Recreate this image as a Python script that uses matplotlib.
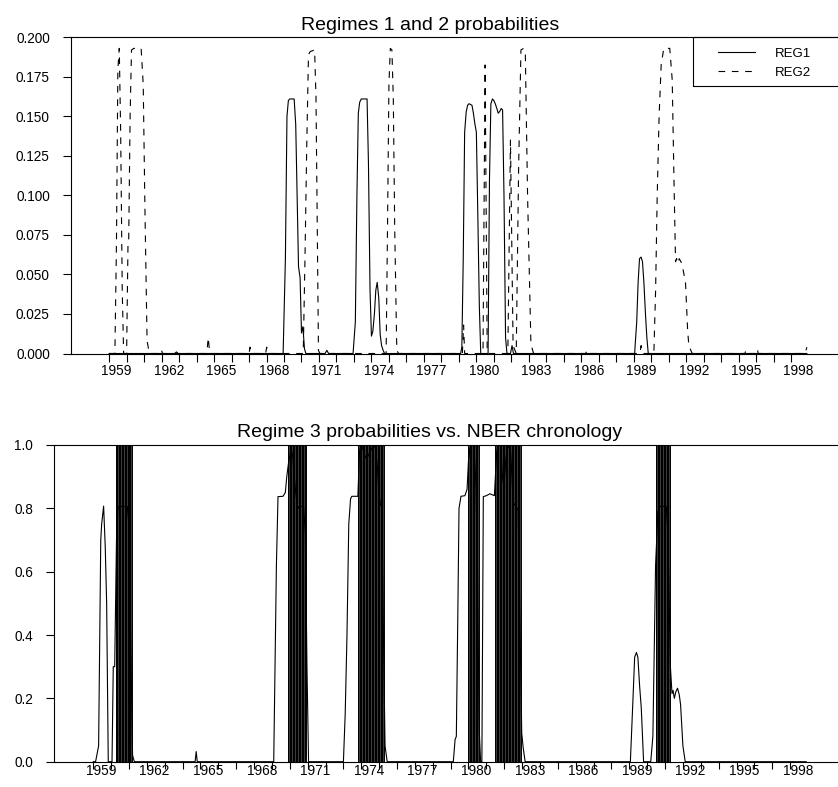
import numpy as np
import matplotlib
matplotlib.use("Agg")
import matplotlib.pyplot as plt
from matplotlib.patches import Rectangle

plt.rcParams['font.family'] = ['Liberation Sans', 'DejaVu Sans']

# ---- data (decimal years) ----
reg1_t = [1959.0, 1962.75, 1962.85, 1962.95, 1968.95, 1969.08, 1969.17, 1969.25, 1969.33,
          1969.58, 1969.67, 1969.75, 1969.83, 1969.92, 1970.0, 1970.08, 1970.17, 1970.25,
          1971.35, 1971.45, 1971.55, 1972.95, 1973.08, 1973.17, 1973.25, 1973.33, 1973.42,
          1973.75, 1973.83, 1973.92, 1974.0, 1974.08, 1974.17, 1974.25, 1974.33, 1974.42,
          1974.5, 1974.58, 1974.67, 1974.75, 1979.1, 1979.17, 1979.25, 1979.33, 1979.42,
          1979.5, 1979.58, 1979.75, 1979.83, 1979.92, 1980.0, 1980.08, 1980.17, 1980.25,
          1980.67, 1980.75, 1980.83, 1980.92, 1981.0, 1981.08, 1981.17, 1981.25, 1981.33,
          1981.42, 1981.5, 1981.58, 1981.67, 1981.75, 1981.95, 1982.04, 1982.12, 1989.05,
          1989.17, 1989.25, 1989.33, 1989.42, 1989.5, 1989.58, 1989.67, 1989.75, 1989.83,
          1998.9]
reg1_v = [0, 0, 0.001, 0, 0, 0.06, 0.150, 0.160, 0.161,
          0.161, 0.145, 0.10, 0.055, 0.048, 0.013, 0.017, 0.003, 0,
          0, 0.002, 0, 0, 0.02, 0.10, 0.152, 0.159, 0.161,
          0.161, 0.12, 0.04, 0.011, 0.014, 0.025, 0.040, 0.045, 0.035,
          0.012, 0.005, 0.002, 0, 0, 0.004, 0.06, 0.14, 0.153,
          0.157, 0.158, 0.157, 0.152, 0.145, 0.14, 0.09, 0.03, 0,
          0, 0.11, 0.158, 0.161, 0.160, 0.158, 0.155, 0.152, 0.153,
          0.155, 0.154, 0.10, 0.01, 0, 0, 0.005, 0, 0,
          0.02, 0.045, 0.060, 0.061, 0.058, 0.045, 0.025, 0.01, 0,
          0]

reg2_t = [1959.0, 1959.33, 1959.42, 1959.5, 1959.58, 1959.66, 1959.75, 1959.83, 1960.0,
          1960.08, 1960.12, 1960.2, 1960.28, 1960.42, 1960.83, 1960.95, 1961.05, 1961.17,
          1961.3, 1961.95, 1962.0, 1962.05, 1964.58, 1964.67, 1964.75, 1967.0, 1967.06,
          1967.12, 1967.95, 1968.01, 1968.08, 1970.1, 1970.2, 1970.3, 1970.4, 1970.5,
          1970.75, 1970.83, 1970.92, 1970.97, 1971.05, 1974.84, 1974.92, 1975.0, 1975.08,
          1975.17, 1975.25, 1975.33, 1975.45, 1975.55, 1979.2, 1979.27, 1979.33, 1980.38,
          1980.5, 1980.62, 1981.8, 1981.95, 1982.1, 1982.28, 1982.42, 1982.55, 1982.7,
          1982.8, 1982.93, 1983.12, 1983.27, 1986.25, 1986.33, 1986.42, 1989.35, 1989.42,
          1989.5, 1990.15, 1990.25, 1990.34, 1990.45, 1990.57, 1990.72, 1991.06, 1991.2,
          1991.3, 1991.39, 1991.45, 1991.52, 1991.6, 1991.7, 1991.77, 1991.96, 1992.08,
          1992.15, 1992.34, 1995.35, 1995.42, 1995.5, 1996.0, 1996.06, 1996.12, 1998.8,
          1998.9]
reg2_v = [0, 0, 0.07, 0.18, 0.193, 0.14, 0.04, 0, 0,
          0.07, 0.072, 0.15, 0.192, 0.193, 0.193, 0.17, 0.09, 0.008,
          0, 0, 0.002, 0, 0, 0.010, 0, 0, 0.004,
          0, 0, 0.004, 0, 0, 0.06, 0.131, 0.189, 0.191,
          0.192, 0.162, 0.06, 0.002, 0, 0, 0.08, 0.17, 0.193,
          0.192, 0.162, 0.08, 0.002, 0, 0, 0.018, 0, 0,
          0.1825, 0, 0, 0.135, 0.005, 0, 0.12, 0.192, 0.193,
          0.19, 0.099, 0.006, 0, 0, 0.002, 0, 0, 0.005,
          0, 0, 0.04, 0.099, 0.15, 0.183, 0.193, 0.193, 0.173,
          0.11, 0.058, 0.060, 0.057, 0.060, 0.058, 0.056, 0.045, 0.015,
          0.005, 0, 0, 0.002, 0, 0, 0.003, 0, 0,
          0.004]

reg3_t = [1959.0, 1959.13, 1959.3, 1959.42, 1959.47, 1959.58, 1959.67, 1959.75, 1959.84,
          1960.05, 1960.12, 1960.2, 1960.3, 1960.38, 1960.45, 1960.9, 1961.0, 1961.09,
          1961.2, 1961.3, 1964.7, 1964.76, 1964.82, 1969.1, 1969.25, 1969.34, 1969.62,
          1969.75, 1969.83, 1969.92, 1970.0, 1970.08, 1970.17, 1970.25, 1970.33, 1970.42,
          1970.5, 1970.58, 1970.77, 1970.87, 1970.96, 1971.05, 1973.0, 1973.1, 1973.2,
          1973.3, 1973.4, 1973.47, 1973.81, 1973.9, 1974.0, 1974.08, 1974.17, 1974.3,
          1974.42, 1974.55, 1974.7, 1974.8, 1974.9, 1975.0, 1975.08, 1975.15, 1975.24,
          1975.33, 1975.45, 1979.15, 1979.25, 1979.32, 1979.4, 1979.47, 1979.58, 1979.8,
          1979.92, 1980.0, 1980.08, 1980.18, 1980.3, 1980.42, 1980.5, 1980.6, 1980.68,
          1980.75, 1980.83, 1981.0, 1981.2, 1981.45, 1981.58, 1981.67, 1981.8, 1981.9,
          1981.98, 1982.1, 1982.22, 1982.36, 1982.5, 1982.65, 1982.78, 1982.92, 1982.98,
          1983.06, 1983.17, 1989.06, 1989.2, 1989.3, 1989.4, 1989.48, 1989.58, 1989.67,
          1989.8, 1990.2, 1990.32, 1990.47, 1990.6, 1990.7, 1991.07, 1991.16, 1991.3,
          1991.39, 1991.45, 1991.52, 1991.6, 1991.7, 1991.8, 1991.87, 1992.0, 1992.13,
          1998.9]
reg3_v = [0, 0, 0.05, 0.70, 0.75, 0.807, 0.68, 0.50, 0,
          0, 0.30, 0.30, 0.70, 0.80, 0.806, 0.806, 0.75, 0.40,
          0.02, 0, 0, 0.032, 0, 0, 0.62, 0.837, 0.838,
          0.85, 0.90, 0.94, 0.965, 0.99, 0.96, 0.90, 0.85, 0.81,
          0.80, 0.806, 0.806, 0.72, 0.30, 0, 0, 0.15, 0.40,
          0.75, 0.83, 0.838, 0.838, 0.98, 1.0, 0.99, 0.97, 0.955,
          0.97, 0.985, 1.0, 0.99, 0.93, 0.84, 0.81, 0.806, 0.40,
          0.05, 0, 0, 0.07, 0.08, 0.45, 0.80, 0.838, 0.84,
          0.86, 0.95, 0.99, 1.0, 1.0, 0.87, 0.62, 0.10, 0,
          0, 0.837, 0.84, 0.846, 0.84, 0.98, 1.0, 1.0, 0.90,
          0.87, 0.96, 1.0, 0.98, 0.82, 0.806, 0.795, 0.30, 0.09,
          0.045, 0, 0, 0.19, 0.33, 0.345, 0.33, 0.237, 0.17,
          0, 0, 0.08, 0.62, 0.79, 0.806, 0.806, 0.72, 0.30,
          0.215, 0.225, 0.2, 0.22, 0.232, 0.21, 0.18, 0.05, 0,
          0]

# NBER peaks and troughs (year, month)
nber_peaks = [(1960, 4), (1969, 12), (1973, 11), (1980, 1), (1981, 7), (1990, 7)]
nber_troughs = [(1961, 2), (1970, 11), (1975, 3), (1980, 7), (1982, 11), (1991, 3)]

tick_years = list(range(1959, 1999))
label_years = list(range(1959, 1999, 3))

XLIM = (1956.82, 2000.68)
FS = 9.8

fig = plt.figure(figsize=(8.38, 7.87), dpi=100)
W, H = 838.0, 787.0


def px_axes(left, top, right, bottom):
    return fig.add_axes([left / W, 1 - bottom / H, (right - left) / W, (bottom - top) / H])


def style_axes(ax, ticklen_x, xpad):
    ax.set_xlim(*XLIM)
    ax.spines['right'].set_visible(False)
    for s in ['left', 'top', 'bottom']:
        ax.spines[s].set_linewidth(0.8)
    ax.set_xticks(tick_years)
    ax.set_xticklabels([])
    ax.set_xticks([y + 0.43 for y in label_years], minor=True)
    ax.set_xticklabels([str(y) for y in label_years], minor=True, fontsize=FS)
    ax.tick_params(axis='x', which='major', direction='out', length=ticklen_x, width=0.8)
    ax.tick_params(axis='x', which='minor', length=0, pad=xpad)
    ax.tick_params(axis='y', direction='out', length=8 * 0.72, width=0.8,
                   labelsize=FS, pad=9.5)


# ---- top panel ----
ax1 = px_axes(71, 37.3, 838, 353.5)
ax1.plot(reg1_t, reg1_v, color='black', lw=0.8, label='REG1')
ax1.plot(reg2_t, reg2_v, color='black', lw=0.8, linestyle=(0, (6, 6)), label='REG2')
ax1.set_ylim(0, 0.2)
ax1.set_yticks(np.arange(0, 0.2001, 0.025))
ax1.set_yticklabels(['%.3f' % v for v in np.arange(0, 0.2001, 0.025)])
style_axes(ax1, 8 * 0.72, 7.5)

leg = ax1.legend(loc='upper left', bbox_to_anchor=(718 / W, 1 - 47.5 / H),
                 bbox_transform=fig.transFigure, frameon=False, fontsize=9.5,
                 handlelength=2.8, handletextpad=1.5, borderpad=0, borderaxespad=0,
                 labelspacing=0.5)
fig.add_artist(Rectangle((693 / W, 1 - 86 / H), 170 / W, 49 / H, transform=fig.transFigure,
                         fill=False, lw=0.8, ec='black', clip_on=False))

fig.text(430 / W, 1 - 29.5 / H, 'Regimes 1 and 2 probabilities', ha='center',
         va='baseline', fontsize=14)

# ---- bottom panel ----
ax2 = px_axes(54.3, 445, 838, 761.7)
for (py, pm), (ty, tm) in zip(nber_peaks, nber_troughs):
    start = py + (pm - 1) / 12.0
    end = ty + tm / 12.0
    ax2.axvspan(start, end, color='#3a3a3a', lw=0)
    months = np.arange(start, end + 1e-6, 1 / 12.0)
    ax2.vlines(months, 0, 1, color='black', lw=0.7)
ax2.plot(reg3_t, reg3_v, color='black', lw=0.8)
ax2.set_ylim(0, 1)
ax2.set_yticks(np.arange(0, 1.001, 0.2))
ax2.set_yticklabels(['%.1f' % v for v in np.arange(0, 1.001, 0.2)])
style_axes(ax2, 7 * 0.72, 1.5)

fig.text(430 / W, 1 - 437.3 / H, 'Regime 3 probabilities vs. NBER chronology', ha='center',
         va='baseline', fontsize=14)

fig.savefig('out.png', dpi=100)
